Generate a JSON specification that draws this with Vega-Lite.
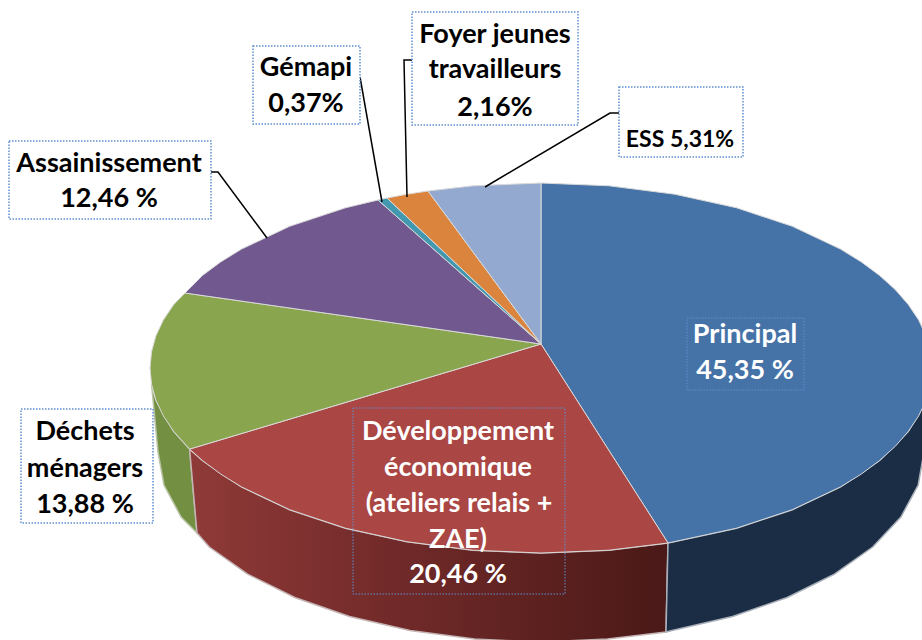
{"$schema":"https://vega.github.io/schema/vega-lite/v6.json","width":922,"height":640,"autosize":"none","padding":0,"background":"white","view":{"stroke":null},
"datasets":{
"side":[
{"slice":"Déchets ménagers","seq":1,"x":151.5,"y":384},{"slice":"Déchets ménagers","seq":2,"x":155.9,"y":400.1},{"slice":"Déchets ménagers","seq":3,"x":173.6,"y":431.3},{"slice":"Déchets ménagers","seq":4,"x":189.6,"y":449.1},{"slice":"Déchets ménagers","seq":5,"x":197,"y":533},{"slice":"Déchets ménagers","seq":6,"x":181.1,"y":517},{"slice":"Déchets ménagers","seq":7,"x":164,"y":485},{"slice":"Déchets ménagers","seq":8,"x":158,"y":452},{"slice":"Déchets ménagers","seq":9,"x":151.5,"y":384},
{"slice":"Développement","seq":1,"x":189.6,"y":449.1},{"slice":"Développement","seq":2,"x":202.4,"y":460.5},{"slice":"Développement","seq":3,"x":241.5,"y":486.9},{"slice":"Développement","seq":4,"x":289.7,"y":509.7},{"slice":"Développement","seq":5,"x":345.5,"y":528.2},{"slice":"Développement","seq":6,"x":407.3,"y":541.8},{"slice":"Développement","seq":7,"x":473.1,"y":550.2},{"slice":"Développement","seq":8,"x":541,"y":553},{"slice":"Développement","seq":9,"x":608.9,"y":550.2},{"slice":"Développement","seq":10,"x":668,"y":543},{"slice":"Développement","seq":11,"x":666,"y":632},{"slice":"Développement","seq":12,"x":607.5,"y":639.1},{"slice":"Développement","seq":13,"x":541,"y":642},{"slice":"Développement","seq":14,"x":474.5,"y":639.1},{"slice":"Développement","seq":15,"x":410,"y":630.5},{"slice":"Développement","seq":16,"x":349.5,"y":616.5},{"slice":"Développement","seq":17,"x":294.8,"y":597.5},{"slice":"Développement","seq":18,"x":247.6,"y":574.1},{"slice":"Développement","seq":19,"x":209.3,"y":547},{"slice":"Développement","seq":20,"x":197,"y":533},{"slice":"Développement","seq":21,"x":189.6,"y":449.1},
{"slice":"Principal","seq":1,"x":668,"y":543},{"slice":"Principal","seq":2,"x":736.5,"y":528.2},{"slice":"Principal","seq":3,"x":792.3,"y":509.7},{"slice":"Principal","seq":4,"x":840.5,"y":486.9},{"slice":"Principal","seq":5,"x":879.6,"y":460.5},{"slice":"Principal","seq":6,"x":908.4,"y":431.3},{"slice":"Principal","seq":7,"x":926.1,"y":400.1},{"slice":"Principal","seq":8,"x":924,"y":452},{"slice":"Principal","seq":9,"x":918.2,"y":485},{"slice":"Principal","seq":10,"x":900.9,"y":517},{"slice":"Principal","seq":11,"x":872.7,"y":547},{"slice":"Principal","seq":12,"x":834.4,"y":574.1},{"slice":"Principal","seq":13,"x":787.2,"y":597.5},{"slice":"Principal","seq":14,"x":732.5,"y":616.5},{"slice":"Principal","seq":15,"x":672,"y":630.5},{"slice":"Principal","seq":16,"x":666,"y":632},{"slice":"Principal","seq":17,"x":668,"y":543}
],
"top":[
{"slice":"Principal","seq":0,"x":541,"y":344},{"slice":"Principal","seq":1,"x":541,"y":183},{"slice":"Principal","seq":2,"x":608.9,"y":185.8},{"slice":"Principal","seq":3,"x":674.7,"y":194.2},{"slice":"Principal","seq":4,"x":736.5,"y":207.8},{"slice":"Principal","seq":5,"x":792.3,"y":226.3},{"slice":"Principal","seq":6,"x":840.5,"y":249.1},{"slice":"Principal","seq":6.5,"x":861.3,"y":261.9},{"slice":"Principal","seq":7,"x":879.6,"y":275.5},{"slice":"Principal","seq":7.5,"x":895.4,"y":289.8},{"slice":"Principal","seq":8,"x":908.4,"y":304.7},{"slice":"Principal","seq":8.5,"x":918.7,"y":320.1},{"slice":"Principal","seq":9,"x":926.1,"y":335.9},{"slice":"Principal","seq":10,"x":932,"y":368},{"slice":"Principal","seq":11,"x":926.1,"y":400.1},{"slice":"Principal","seq":11.5,"x":918.7,"y":415.9},{"slice":"Principal","seq":12,"x":908.4,"y":431.3},{"slice":"Principal","seq":12.5,"x":895.4,"y":446.2},{"slice":"Principal","seq":13,"x":879.6,"y":460.5},{"slice":"Principal","seq":13.5,"x":861.3,"y":474.1},{"slice":"Principal","seq":14,"x":840.5,"y":486.9},{"slice":"Principal","seq":15,"x":792.3,"y":509.7},{"slice":"Principal","seq":16,"x":736.5,"y":528.2},{"slice":"Principal","seq":17,"x":668,"y":543},{"slice":"Principal","seq":18,"x":541,"y":344},
{"slice":"Développement","seq":0,"x":541,"y":344},{"slice":"Développement","seq":1,"x":668,"y":543},{"slice":"Développement","seq":2,"x":608.9,"y":550.2},{"slice":"Développement","seq":3,"x":541,"y":553},{"slice":"Développement","seq":4,"x":473.1,"y":550.2},{"slice":"Développement","seq":5,"x":407.3,"y":541.8},{"slice":"Développement","seq":6,"x":345.5,"y":528.2},{"slice":"Développement","seq":7,"x":289.7,"y":509.7},{"slice":"Développement","seq":8,"x":241.5,"y":486.9},{"slice":"Développement","seq":8.5,"x":220.7,"y":474.1},{"slice":"Développement","seq":9,"x":202.4,"y":460.5},{"slice":"Développement","seq":10,"x":189.6,"y":449.1},{"slice":"Développement","seq":11,"x":541,"y":344},
{"slice":"Déchets ménagers","seq":0,"x":541,"y":344},{"slice":"Déchets ménagers","seq":1,"x":189.6,"y":449.1},{"slice":"Déchets ménagers","seq":2,"x":173.6,"y":431.3},{"slice":"Déchets ménagers","seq":2.5,"x":163.3,"y":415.9},{"slice":"Déchets ménagers","seq":3,"x":155.9,"y":400.1},{"slice":"Déchets ménagers","seq":3.5,"x":151.5,"y":384.1},{"slice":"Déchets ménagers","seq":4,"x":150,"y":368},{"slice":"Déchets ménagers","seq":4.5,"x":151.5,"y":351.9},{"slice":"Déchets ménagers","seq":5,"x":155.9,"y":335.9},{"slice":"Déchets ménagers","seq":5.5,"x":163.3,"y":320.1},{"slice":"Déchets ménagers","seq":6,"x":173.6,"y":304.7},{"slice":"Déchets ménagers","seq":7,"x":185,"y":293},{"slice":"Déchets ménagers","seq":8,"x":541,"y":344},
{"slice":"Assainissement","seq":0,"x":541,"y":344},{"slice":"Assainissement","seq":1,"x":185,"y":293},{"slice":"Assainissement","seq":2,"x":202.4,"y":275.5},{"slice":"Assainissement","seq":2.5,"x":220.7,"y":261.9},{"slice":"Assainissement","seq":3,"x":241.5,"y":249.1},{"slice":"Assainissement","seq":4,"x":289.7,"y":226.3},{"slice":"Assainissement","seq":5,"x":345.5,"y":207.8},{"slice":"Assainissement","seq":6,"x":378,"y":200},{"slice":"Assainissement","seq":7,"x":541,"y":344},
{"slice":"Gémapi","seq":0,"x":541,"y":344},{"slice":"Gémapi","seq":1,"x":378,"y":200},{"slice":"Gémapi","seq":2,"x":387,"y":198},{"slice":"Gémapi","seq":3,"x":541,"y":344},
{"slice":"Foyer jeunes travailleurs","seq":0,"x":541,"y":344},{"slice":"Foyer jeunes travailleurs","seq":1,"x":387,"y":198},{"slice":"Foyer jeunes travailleurs","seq":2,"x":407.3,"y":194.2},{"slice":"Foyer jeunes travailleurs","seq":3,"x":428,"y":191},{"slice":"Foyer jeunes travailleurs","seq":4,"x":541,"y":344},
{"slice":"ESS","seq":0,"x":541,"y":344},{"slice":"ESS","seq":1,"x":428,"y":191},{"slice":"ESS","seq":2,"x":473.1,"y":185.8},{"slice":"ESS","seq":3,"x":541,"y":183},{"slice":"ESS","seq":4,"x":541,"y":344}
],
"leaders":[
{"slice":"Assainissement","seq":1,"x":211,"y":172},{"slice":"Assainissement","seq":2,"x":218,"y":172},{"slice":"Assainissement","seq":3,"x":267,"y":238},
{"slice":"Gémapi","seq":1,"x":360,"y":77},{"slice":"Gémapi","seq":2,"x":382,"y":202},
{"slice":"Foyer","seq":1,"x":412,"y":60},{"slice":"Foyer","seq":2,"x":404,"y":60},{"slice":"Foyer","seq":3,"x":407,"y":197},
{"slice":"ESS","seq":1,"x":619,"y":113},{"slice":"ESS","seq":2,"x":610,"y":113},{"slice":"ESS","seq":3,"x":485,"y":187}
],
"boxes":[
{"slice":"Assainissement","place":"outside","x":9,"x2":211,"y":141,"y2":219},
{"slice":"Déchets ménagers","place":"outside","x":21,"x2":153,"y":409,"y2":523},
{"slice":"Gémapi","place":"outside","x":253,"x2":360,"y":46,"y2":124},
{"slice":"Foyer jeunes travailleurs","place":"outside","x":412,"x2":578,"y":12,"y2":125},
{"slice":"ESS","place":"outside","x":619,"x2":743,"y":87,"y2":157},
{"slice":"Principal","place":"inside","x":687,"x2":804,"y":318,"y2":390},
{"slice":"Développement","place":"inside","x":353,"x2":565,"y":408,"y2":594}
],
"labels":[
{"t":"Assainissement","place":"outside","x":109,"y":164},{"t":"12,46 %","place":"outside","x":109,"y":199},
{"t":"Déchets","place":"outside","x":85,"y":432},{"t":"ménagers","place":"outside","x":85,"y":469},{"t":"13,88 %","place":"outside","x":85,"y":505},
{"t":"Gémapi","place":"outside","x":306,"y":68},{"t":"0,37%","place":"outside","x":306,"y":104},
{"t":"Foyer jeunes","place":"outside","x":495,"y":35},{"t":"travailleurs","place":"outside","x":495,"y":70},{"t":"2,16%","place":"outside","x":495,"y":108},
{"t":"Principal","place":"inside","x":745,"y":335},{"t":"45,35 %","place":"inside","x":745,"y":371},
{"t":"Développement","place":"inside","x":458,"y":432},{"t":"économique","place":"inside","x":458,"y":468},{"t":"(ateliers relais +","place":"inside","x":459,"y":504},{"t":"ZAE)","place":"inside","x":458,"y":540},{"t":"20,46 %","place":"inside","x":458,"y":575}
],
"small":[{"t":"ESS   5,31%","x":680,"y":140}]
},
"encoding":{
"x":{"field":"x","type":"quantitative","axis":null,"scale":{"domain":[0,922],"range":[0,922],"nice":false,"zero":false}},
"y":{"field":"y","type":"quantitative","axis":null,"scale":{"domain":[0,640],"range":[0,640],"nice":false,"zero":false}}
},
"layer":[
{"data":{"name":"side"},"transform":[{"filter":"datum.slice==='Déchets ménagers'"}],"mark":{"type":"line","filled":true,"clip":true,"fill":"#738f41","stroke":"#b9c4a6","strokeWidth":1.5},"encoding":{"order":{"field":"seq","type":"quantitative"}}},
{"data":{"name":"side"},"transform":[{"filter":"datum.slice==='Développement'"}],"mark":{"type":"line","filled":true,"clip":true,"stroke":"#c4b4b4","strokeWidth":1.5,"fill":{"gradient":"linear","x1":0,"y1":0,"x2":1,"y2":0,"stops":[{"offset":0,"color":"#8f3a38"},{"offset":0.4,"color":"#732b2a"},{"offset":1,"color":"#4a1917"}]}},"encoding":{"order":{"field":"seq","type":"quantitative"}}},
{"data":{"name":"side"},"transform":[{"filter":"datum.slice==='Principal'"}],"mark":{"type":"line","filled":true,"clip":true,"fill":"#1b2d45","stroke":"#a9afb8","strokeWidth":1.5},"encoding":{"order":{"field":"seq","type":"quantitative"}}},
{"data":{"name":"top"},"mark":{"type":"line","filled":true,"clip":true,"stroke":"#d9d9d9","strokeWidth":1},"encoding":{"detail":{"field":"slice"},"order":{"field":"seq","type":"quantitative"},"color":{"field":"slice","type":"nominal","legend":null,"scale":{"domain":["Principal","Développement","Déchets ménagers","Assainissement","Gémapi","Foyer jeunes travailleurs","ESS"],"range":["#4572a7","#aa4643","#89a54e","#71588f","#4198af","#db843d","#93a9cf"]}}}},
{"data":{"name":"leaders"},"mark":{"type":"line","color":"#000000","strokeWidth":1.5},"encoding":{"detail":{"field":"slice"},"order":{"field":"seq","type":"quantitative"}}},
{"data":{"name":"boxes"},"transform":[{"filter":"datum.place==='outside'"}],"mark":{"type":"rect","fill":"#ffffff","stroke":"#5f8fcf","strokeWidth":1.5,"strokeDash":[1.5,1.5]},"encoding":{"x2":{"field":"x2"},"y2":{"field":"y2"}}},
{"data":{"name":"boxes"},"transform":[{"filter":"datum.place==='inside'"}],"mark":{"type":"rect","fill":null,"stroke":"#5f8fcf","strokeWidth":1,"strokeDash":[1.5,1.5]},"encoding":{"x2":{"field":"x2"},"y2":{"field":"y2"}}},
{"data":{"name":"labels"},"transform":[{"filter":"datum.place==='outside'"}],"mark":{"type":"text","font":"Lato","fontWeight":"bold","fontSize":27,"align":"center","baseline":"middle","fill":"#000000"},"encoding":{"text":{"field":"t"}}},
{"data":{"name":"labels"},"transform":[{"filter":"datum.place==='inside'"}],"mark":{"type":"text","font":"Lato","fontWeight":"bold","fontSize":27,"align":"center","baseline":"middle","fill":"#ffffff"},"encoding":{"text":{"field":"t"}}},
{"data":{"name":"small"},"mark":{"type":"text","font":"Lato","fontWeight":"bold","fontSize":23,"align":"center","baseline":"middle","fill":"#000000"},"encoding":{"text":{"field":"t"}}}
]}
